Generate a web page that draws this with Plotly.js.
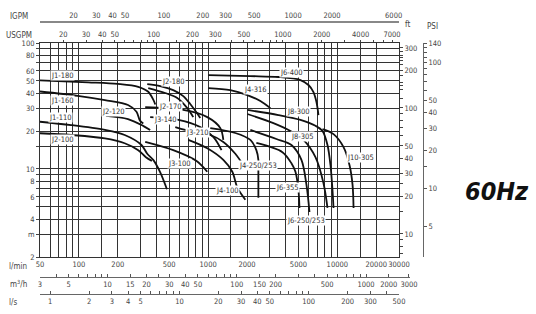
<!DOCTYPE html>
<html><head><meta charset="utf-8">
<script src="https://cdn.plot.ly/plotly-3.0.1.min.js"></script>
<style>html,body{margin:0;padding:0;background:#fff;}#chart{width:536px;height:314px;}</style>
</head><body><div id="chart"></div>
<script>
// ---------- axis ticks ----------
const flowTickVals = [50,60,70,80,90,100,150,200,300,400,500,600,700,800,900,1000,1500,2000,3000,4000,5000,6000,7000,8000,9000,10000,15000,20000,30000];
const flowTickText = ['50','','','','','100','','200','','','500','','','','','1000','','2000','','','5000','','','','','10000','','20000','30000'];
const headTickVals = [2,3,4,5,6,7,8,9,10,15,20,30,40,50,60,70,80,90,100];
const headTickText = ['2','m','4','','6','','8','','10','','20','30','40','50','60','','80','','100'];
const ftTickVals = [7,8,9,10,15,20,25,30,40,50,60,70,80,90,100,120,140,150,160,180,200,220,240,250,260,280,300];
const ftTickText = ['','','','10','','20','','30','40','50','','','','','100','','','','','','200','','','','','','300'];
const psiTickVals = [5,10,15,20,30,40,50,60,70,80,90,100,110,120,130,140];
const psiTickText = ['5','10','','20','30','40','50','','','','','100','','','','140'];
const usgpmTickVals = [20,30,40,50,60,70,80,90,100,150,200,300,400,500,600,700,800,900,1000,2000,3000,4000,5000,6000,7000];
const usgpmTickText = ['20','30','40','50','','','','','100','','200','300','','500','','','','','1000','2000','','4000','','','7000'];
const igpmTickVals = [20,30,40,50,60,70,80,90,100,200,300,400,500,600,700,800,900,1000,2000,3000,4000,5000,6000];
const igpmTickText = ['20','30','40','50','','','','','100','200','300','','500','','','','','1000','2000','','','','6000'];
const m3hTickVals = [3,4,5,6,7,8,9,10,15,20,25,30,40,50,60,70,80,90,100,150,200,300,400,500,600,700,800,900,1000,1500,2150];
const m3hTickText = ['3','','5','','','','','10','15','20','','30','40','50','','','','','100','150','200','','','500','','','','','1000','2000','3000'];
const lsTickVals = [1,2,3,4,5,6,7,8,9,10,20,30,40,50,60,70,80,90,100,200,300,400,500];
const lsTickText = ['1','2','3','4','5','','','','','10','20','30','40','50','','','','','100','200','300','','500'];

// ---------- pump curves: flow (l/min), head (m) ----------
const j1_180_q = [50,118,200,288,344,378,390];
const j1_180_h = [50.5,48.7,47.3,44.9,41.0,35.2,32.5];
const j1_160_q = [50,98,159,240,279,297,315];
const j1_160_h = [41.2,38.1,35.2,32.2,28.5,24.2,23.0];
const j1_110_q = [50,87,159,226,305,338,376,426,480];
const j1_110_h = [23.7,22.3,20.4,18.6,15.5,13.2,11.8,9.4,6.9];
const j2_100_q = [50,87,159,226,288,330,367];
const j2_100_h = [19.2,18.6,17.5,16.0,14.1,12.4,11.6];
const j2_120_q = [162,240,314,356];
const j2_120_h = [26.4,24.9,22.0,20.4];
const j2_180_q = [338,426,537,642,727,809,869];
const j2_180_h = [47.2,45.5,42.3,37.9,32.8,28.3,25.4];
const j2_170_q = [344,465,577,690,767];
const j2_170_h = [43.9,40.1,36.6,30.4,25.8];
const j3_140a_q = [326,642,985,1243,1311];
const j3_140a_h = [31.0,29.4,25.8,21.1,17.0];
const j3_140_q = [356,590,869,1100,1270];
const j3_140_h = [25.8,24.5,21.5,17.9,14.1];
const j3_210_q = [557,665,1039,1311,1624,1873];
const j3_210_h = [21.5,20.4,18.6,16.4,13.2,10.7];
const j4_100_q = [702,985,1311,1539,1683,1941];
const j4_100_h = [17.0,14.6,11.8,9.5,7.1,5.7];
const j3_100_q = [326,537,809,985];
const j3_100_h = [16.4,14.1,11.6,9.5];
const j4_316_q = [1003,1485,2012,2537,3033];
const j4_316_h = [43.9,42.3,38.6,34.6,30.4];
const j6_400_q = [1003,2123,3499,5181,5977,6534,6893,7145];
const j6_400_h = [55.6,54.6,53.7,50.8,46.4,40.8,34.0,26.8];
const j8_300_q = [2012,3499,5181,6771,7673,8388,8851,9172,9339];
const j8_300_h = [29.4,26.8,24.5,22.0,20.0,15.5,10.7,6.8,4.9];
const j10_305_q = [7673,9339,11167,12427,13110,13347];
const j10_305_h = [20.7,18.9,14.9,10.7,7.5,4.9];
const j8_305_q = [2012,3200,4335,5466,6771,7814,8388];
const j8_305_h = [27.3,23.1,20.0,17.0,12.4,7.7,4.9];
const j6_250_q = [2123,3375,4412,5273,5766,6086];
const j6_250_h = [20.4,17.3,15.5,11.8,7.5,4.55];
const j6_355_q = [2362,3758,4412,4739,5000,5090];
const j6_355_h = [16.1,13.6,11.1,9.5,6.8,4.9];
const j4_250_q = [1039,1624,2123,2362,2448,2448,2448];
const j4_250_h = [21.1,19.3,17.0,14.1,11.8,9.5,5.9];

// ---------- curve labels ----------
const labelText = ['J1-180','J1-160','J1-110','J2-100','J2-120','J2-180','J2-170','J3-140','J3-210','J3-100','J4-316','J6-400','J8-300','J8-305','J4-250/253','J4-100','J6-355','J6-250/253','J10-305'];
const labelQ = [74,74,71.5,74,184,537,509,465,824,598,2321,4412,5000,5370,2448,1409,4108,5766,15120];
const labelH = [55.6,35.2,25.8,17.0,28.8,49.9,31.6,24.9,19.3,11.1,43.1,58.8,28.8,18.2,10.7,6.8,7.1,3.93,12.4];

// ---------- unit factors ----------
const M_TO_FT = 3.28084, M_TO_PSI = 1.42233, LPM_PER_USGPM = 3.78541, LPM_PER_IGPM = 4.54609, LPM_TO_M3H = 0.06, LPM_PER_LS = 60;
const qMin = 50, qMax = 30000, hMin = 2, hMax = 100;

// ---------- layout geometry ----------
const W = 536, H = 314, ML = 40, MR = 10, MT = 10, MB = 10;
const PW = W - ML - MR, PH = H - MT - MB;
const fx = px => (px - ML) / PW;
const fy = py => (H - MB - py) / PH;
const xDom = [0, fx(399)];
const yDom = [fy(257), fy(43)];
const L10 = Math.log10;
const FONT = 'DejaVu Sans Condensed, Liberation Sans Narrow, sans-serif';
const tickFont = {family: FONT, size: 7.5, color: '#444'};
const GRID = '#333';

const curveSets = [
  [j1_180_q,j1_180_h],[j1_160_q,j1_160_h],[j1_110_q,j1_110_h],[j2_100_q,j2_100_h],[j2_120_q,j2_120_h],
  [j2_180_q,j2_180_h],[j2_170_q,j2_170_h],[j3_140a_q,j3_140a_h],[j3_140_q,j3_140_h],[j3_210_q,j3_210_h],
  [j4_100_q,j4_100_h],[j3_100_q,j3_100_h],[j4_316_q,j4_316_h],[j6_400_q,j6_400_h],[j8_300_q,j8_300_h],
  [j10_305_q,j10_305_h],[j8_305_q,j8_305_h],[j6_250_q,j6_250_h],[j6_355_q,j6_355_h],[j4_250_q,j4_250_h]
];
const traces = curveSets.map(([q,h]) => ({
  x: q, y: h, type: 'scatter', mode: 'lines', xaxis: 'x', yaxis: 'y',
  line: {color: '#111', width: 1.8, shape: 'spline', smoothing: 0.9},
  hoverinfo: 'skip', showlegend: false
}));
// invisible anchors so every secondary axis is drawn
const dummy = (xa, ya, x, y) => ({x: [x], y: [y], xaxis: xa, yaxis: ya, type: 'scatter', mode: 'markers', marker: {opacity: 0}, hoverinfo: 'skip', showlegend: false});
traces.push(dummy('x2','y',100,10), dummy('x','y2',1000,50), dummy('x','y3',1000,10),
  dummy('x3','y4',100,0.5), dummy('x4','y5',100,0.5), dummy('x5','y6',10,0.5));

const xSpan = L10(qMax) - L10(qMin);
const m3hLo = L10(qMin * LPM_TO_M3H);
const m3hHi = m3hLo + xSpan * (410 - 40) / (399 - 40);
const hidden = {showticklabels: false, showline: false, showgrid: false, zeroline: false, ticks: '', range: [0,1], fixedrange: true};

const annotations = labelText.map((t,i) => ({
  x: L10(labelQ[i]), y: L10(labelH[i]), xref: 'x', yref: 'y', text: t, showarrow: false,
  xanchor: 'center', yanchor: 'middle',
  font: {family: FONT, size: 7.5, color: '#333'}, bgcolor: '#fff', borderpad: 0
}));
const sideLabel = (t, px, py) => ({x: fx(px), y: fy(py), xref: 'paper', yref: 'paper', text: t, showarrow: false,
  xanchor: 'center', yanchor: 'middle', font: {family: FONT, size: 8, color: '#444'}});
annotations.push(
  sideLabel('IGPM', 19, 16), sideLabel('USGPM', 19, 35), sideLabel('l/min', 18, 266),
  sideLabel('m<sup>3</sup>/h', 18, 284), sideLabel('l/s', 13, 302), sideLabel('ft', 407, 25), sideLabel('PSI', 432, 27),
  {x: fx(497), y: fy(191), xref: 'paper', yref: 'paper', text: '<b><i>60Hz</i></b>', showarrow: false,
   xanchor: 'center', yanchor: 'middle',
   font: {family: 'DejaVu Sans Condensed, Liberation Sans Narrow, sans-serif', size: 25, color: '#111'}}
);

const layout = {
  width: W, height: H, margin: {l: ML, r: MR, t: MT, b: MB, autoexpand: false}, paper_bgcolor: '#fff', plot_bgcolor: '#fff', showlegend: false,
  xaxis: {type: 'log', range: [L10(qMin), L10(qMax)], domain: xDom, anchor: 'y', tickvals: flowTickVals, ticktext: flowTickText, tickangle: 0,
    showgrid: true, gridcolor: GRID, gridwidth: 1, ticks: '', showline: true, linecolor: '#333', linewidth: 1, mirror: true, tickfont: tickFont, zeroline: false},
  yaxis: {type: 'log', range: [L10(hMin), L10(hMax)], domain: yDom, anchor: 'x', tickvals: headTickVals, ticktext: headTickText,
    showgrid: true, gridcolor: GRID, gridwidth: 1, ticks: 'outside', ticklen: 3, tickcolor: '#444', showline: true, linecolor: '#333', mirror: true, tickfont: tickFont, zeroline: false},
  xaxis2: {type: 'log', overlaying: 'x', side: 'top', anchor: 'y', range: [L10(qMin/LPM_PER_USGPM), L10(qMax/LPM_PER_USGPM)], tickangle: 0,
    tickvals: usgpmTickVals, ticktext: usgpmTickText, ticks: 'outside', ticklen: 2, tickcolor: '#444', showgrid: false, showline: false, tickfont: tickFont},
  yaxis2: {type: 'log', overlaying: 'y', side: 'right', anchor: 'x', range: [L10(hMin*M_TO_FT), L10(hMax*M_TO_FT)],
    tickvals: ftTickVals, ticktext: ftTickText, ticks: 'outside', ticklen: 3, tickcolor: '#444', showgrid: false, showline: false, tickfont: tickFont},
  yaxis3: {type: 'log', overlaying: 'y', side: 'right', anchor: 'free', position: fx(423), range: [L10(hMin*M_TO_PSI), L10(hMax*M_TO_PSI)],
    tickvals: psiTickVals, ticktext: psiTickText, ticks: 'outside', ticklen: 3, tickcolor: '#555', showgrid: false, showline: true, linecolor: '#666', linewidth: 1, tickfont: tickFont},
  xaxis3: {type: 'log', domain: xDom, anchor: 'y4', side: 'top', range: [L10(qMin/LPM_PER_IGPM), L10(qMax/LPM_PER_IGPM)], tickangle: 0,
    tickvals: igpmTickVals, ticktext: igpmTickText, ticks: '', showgrid: false, showline: true, linecolor: '#888', linewidth: 2, tickfont: tickFont},
  yaxis4: Object.assign({domain: [fy(24), fy(23)], anchor: 'x3'}, hidden),
  xaxis4: {type: 'log', domain: [0, fx(410)], anchor: 'y5', side: 'bottom', range: [m3hLo, m3hHi], tickangle: 0,
    tickvals: m3hTickVals, ticktext: m3hTickText, ticks: 'inside', ticklen: 3, tickcolor: '#555', showgrid: false, showline: true, linecolor: '#666', linewidth: 1, tickfont: tickFont},
  yaxis5: Object.assign({domain: [fy(277), fy(276)], anchor: 'x4'}, hidden),
  xaxis5: {type: 'log', domain: xDom, anchor: 'y6', side: 'bottom', range: [L10(qMin/LPM_PER_LS), L10(qMax/LPM_PER_LS)], tickangle: 0,
    tickvals: lsTickVals, ticktext: lsTickText, ticks: 'inside', ticklen: 3, tickcolor: '#555', showgrid: false, showline: true, linecolor: '#666', linewidth: 1, tickfont: tickFont},
  yaxis6: Object.assign({domain: [fy(294), fy(293)], anchor: 'x5'}, hidden),
  annotations: annotations
};
Plotly.newPlot('chart', traces, layout, {staticPlot: true, displayModeBar: false});
</script></body></html>
